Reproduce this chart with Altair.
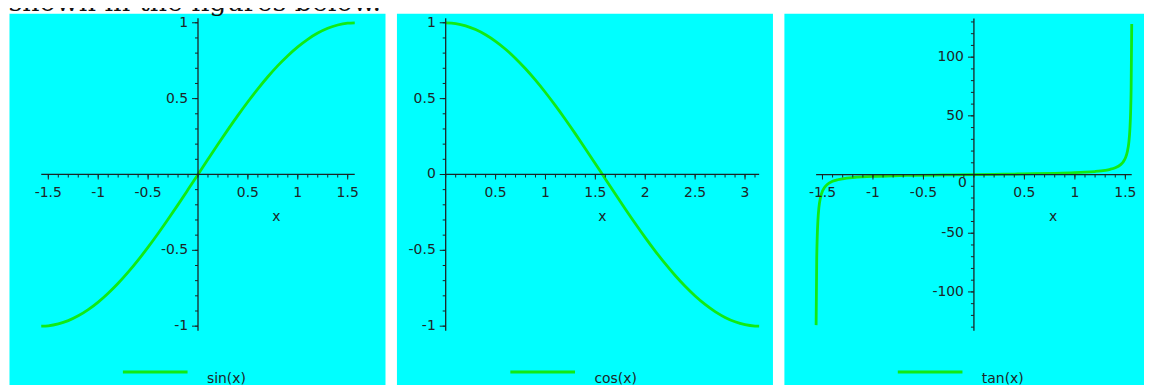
import altair as alt
import pandas as pd

HEADING = "shown in the figures below."

# ---- data ----
sin_x = [-1.5708, -1.5, -1.4, -1.3, -1.2, -1.1, -1.0, -0.9, -0.8, -0.7, -0.6, -0.5,
         -0.4, -0.3, -0.2, -0.1, 0.0, 0.1, 0.2, 0.3, 0.4, 0.5, 0.6, 0.7, 0.8, 0.9,
         1.0, 1.1, 1.2, 1.3, 1.4, 1.5, 1.5708]
sin_y = [-1.0, -0.9975, -0.9854, -0.9636, -0.9320, -0.8912, -0.8415, -0.7833, -0.7174,
         -0.6442, -0.5646, -0.4794, -0.3894, -0.2955, -0.1987, -0.0998, 0.0, 0.0998,
         0.1987, 0.2955, 0.3894, 0.4794, 0.5646, 0.6442, 0.7174, 0.7833, 0.8415,
         0.8912, 0.9320, 0.9636, 0.9854, 0.9975, 1.0]

cos_x = [0.0, 0.1, 0.2, 0.3, 0.4, 0.5, 0.6, 0.7, 0.8, 0.9, 1.0, 1.1, 1.2, 1.3, 1.4,
         1.5, 1.6, 1.7, 1.8, 1.9, 2.0, 2.1, 2.2, 2.3, 2.4, 2.5, 2.6, 2.7, 2.8, 2.9,
         3.0, 3.1, 3.1416]
cos_y = [1.0, 0.9950, 0.9801, 0.9553, 0.9211, 0.8776, 0.8253, 0.7648, 0.6967, 0.6216,
         0.5403, 0.4536, 0.3624, 0.2675, 0.1700, 0.0707, -0.0292, -0.1288, -0.2272,
         -0.3233, -0.4161, -0.5048, -0.5885, -0.6663, -0.7374, -0.8011, -0.8569,
         -0.9041, -0.9422, -0.9710, -0.9900, -0.9991, -1.0]

tan_x = [-1.563, -1.557, -1.552, -1.545, -1.535, -1.52, -1.5, -1.48, -1.45, -1.4,
         -1.35, -1.3, -1.2, -1.1, -1.0, -0.8, -0.6, -0.4, -0.2, 0.0, 0.2, 0.4, 0.6,
         0.8, 1.0, 1.1, 1.2, 1.3, 1.35, 1.4, 1.45, 1.48, 1.5, 1.52, 1.535, 1.545,
         1.552, 1.557, 1.563]
tan_y = [-128.3, -72.5, -53.2, -38.8, -27.9, -19.67, -14.10, -10.98, -8.238, -5.798,
         -4.455, -3.602, -2.572, -1.965, -1.557, -1.030, -0.684, -0.423, -0.203, 0.0,
         0.203, 0.423, 0.684, 1.030, 1.557, 1.965, 2.572, 3.602, 4.455, 5.798, 8.238,
         10.98, 14.10, 19.67, 27.9, 38.8, 53.2, 72.5, 128.3]

# tick labels
p1_xlab = [-1.5, -1.0, -0.5, 0.5, 1.0, 1.5]
p1_xtxt = ["-1.5", "-1", "-0.5", "0.5", "1", "1.5"]
p1_ylab = [-1.0, -0.5, 0.5, 1.0]
p1_ytxt = ["-1", "-0.5", "0.5", "1"]

p2_xlab = [0.5, 1.0, 1.5, 2.0, 2.5, 3.0]
p2_xtxt = ["0.5", "1", "1.5", "2", "2.5", "3"]
p2_ylab = [-1.0, -0.5, 0.0, 0.5, 1.0]
p2_ytxt = ["-1", "-0.5", "0", "0.5", "1"]

p3_xlab = [-1.5, -1.0, -0.5, 0.5, 1.0, 1.5]
p3_xtxt = ["-1.5", "-1", "-0.5", "0.5", "1", "1.5"]
p3_ylab = [-100, -50, 50, 100]
p3_ytxt = ["-100", "-50", "50", "100"]

# minor tick positions
t_sym = [round(i * 0.1, 1) for i in range(-15, 16)]
t_pos = [round(i * 0.1, 1) for i in range(0, 32)]
t_unit = [round(i * 0.1, 1) for i in range(-10, 11)]
t_tan = [i * 10 for i in range(-13, 14)]

# ---- style ----
CYAN = "#00ffff"
GREEN = "#11ea14"
AXC = "#1c2426"
TXT = "#1e2628"
FONT = "DejaVu Sans"
H = 373


def panel(xs, ys, name, width, xdom, ydom, xext, yext, xminor, xmajor, xtxt,
          yminor, ymajor, ytxt, xtitle_at, extra=None):
    sx = alt.Scale(domain=xdom, nice=False, zero=False)
    sy = alt.Scale(domain=ydom, nice=False, zero=False)

    def X(f):
        return alt.X(f, type="quantitative", scale=sx, axis=None)

    def Y(f):
        return alt.Y(f, type="quantitative", scale=sy, axis=None)

    curve = alt.Chart(pd.DataFrame({"x": xs, "y": ys, "series": name})).mark_line(
        strokeWidth=2.8, interpolate="monotone"
    ).encode(
        x=X("x"), y=Y("y"),
        color=alt.Color("series:N", scale=alt.Scale(range=[GREEN]),
                        legend=alt.Legend(orient="none", legendX=113, legendY=326.5,
                                          title=None, symbolType="stroke",
                                          symbolSize=65 * 65, symbolStrokeWidth=3,
                                          labelFont=FONT, labelFontSize=14,
                                          labelColor=TXT, labelOffset=18,
                                          labelBaseline="top", padding=0)),
    )

    xaxis = alt.Chart(pd.DataFrame({"a": [xext[0]], "b": [xext[1]], "z": [0]})).mark_rule(
        color=AXC, strokeWidth=1.3).encode(x=X("a"), x2="b", y=Y("z"))
    yaxis = alt.Chart(pd.DataFrame({"a": [yext[0]], "b": [yext[1]], "z": [0]})).mark_rule(
        color=AXC, strokeWidth=1.3).encode(y=Y("a"), y2="b", x=X("z"))

    xt_min = alt.Chart(pd.DataFrame({"v": xminor, "z": 0})).mark_tick(
        orient="vertical", size=3, thickness=1, yOffset=1.5, color=AXC, opacity=1
    ).encode(x=X("v"), y=Y("z"))
    xt_maj = alt.Chart(pd.DataFrame({"v": xmajor, "z": 0})).mark_tick(
        orient="vertical", size=5, thickness=1, yOffset=2.5, color=AXC, opacity=1
    ).encode(x=X("v"), y=Y("z"))
    yt_min = alt.Chart(pd.DataFrame({"v": yminor, "z": 0})).mark_tick(
        orient="horizontal", size=3, thickness=1, xOffset=-1.5, color=AXC, opacity=1
    ).encode(y=Y("v"), x=X("z"))
    yt_maj = alt.Chart(pd.DataFrame({"v": ymajor, "z": 0})).mark_tick(
        orient="horizontal", size=6, thickness=1, xOffset=-3, color=AXC, opacity=1
    ).encode(y=Y("v"), x=X("z"))

    xl = alt.Chart(pd.DataFrame({"v": xmajor, "t": xtxt, "z": 0})).mark_text(
        dy=19, align="center", baseline="middle", font=FONT, fontSize=14, color=TXT
    ).encode(x=X("v"), y=Y("z"), text="t:N")
    yl = alt.Chart(pd.DataFrame({"v": ymajor, "t": ytxt, "z": 0})).mark_text(
        dx=-10, align="right", baseline="middle", font=FONT, fontSize=14, color=TXT
    ).encode(y=Y("v"), x=X("z"), text="t:N")
    xtitle = alt.Chart(pd.DataFrame({"v": [xtitle_at], "z": [0], "t": ["x"]})).mark_text(
        dy=43, align="center", baseline="middle", font=FONT, fontSize=14, color=TXT
    ).encode(x=X("v"), y=Y("z"), text="t:N")

    layers = [curve, xaxis, yaxis, xt_min, xt_maj, yt_min, yt_maj, xl, yl, xtitle]
    if extra is not None:
        layers.append(alt.Chart(pd.DataFrame({"v": [0], "z": [0], "t": [extra[0]]})).mark_text(
            dx=extra[1], dy=extra[2], align="right", baseline="middle", font=FONT,
            fontSize=14, color=TXT).encode(x=X("v"), y=Y("z"), text="t:N"))
    return alt.layer(*layers).properties(width=width, height=H)


p1 = panel(sin_x, sin_y, "sin(x)", 378, [-1.894, 1.874], [-1.384, 1.062],
           [-1.5708, 1.5708], [-1.03, 1.03], t_sym, p1_xlab, p1_xtxt,
           t_unit, p1_ylab, p1_ytxt, 0.7854)
p2 = panel(cos_x, cos_y, "cos(x)", 378, [-0.4935, 3.275], [-1.384, 1.062],
           [0.0, 3.1416], [-1.03, 1.03], t_pos, p2_xlab, p2_xtxt,
           t_unit, p2_ylab, p2_ytxt, 1.5708)
p3 = panel(tan_x, tan_y, "tan(x)", 369, [-1.882, 1.7535], [-178.8, 137.3],
           [-1.563, 1.563], [-133, 133], t_sym, p3_xlab, p3_xtxt,
           t_tan, p3_ylab, p3_ytxt, 0.7854, extra=("0", -7, 9))

chart = alt.hconcat(p1, p2, p3, spacing=9.5).resolve_scale(
    x="independent", y="independent", color="independent"
).resolve_legend(color="independent").properties(
    title=alt.TitleParams(text=HEADING, font="DejaVu Serif", fontSize=27,
                          fontWeight="normal", anchor="start", offset=-4.3,
                          color="#111111"),
    padding={"left": 0, "top": -20.6, "right": -8, "bottom": 0},
).configure_view(fill=CYAN, stroke="transparent")

chart.save("out.html", embed_options={"renderer": "svg", "actions": False})
